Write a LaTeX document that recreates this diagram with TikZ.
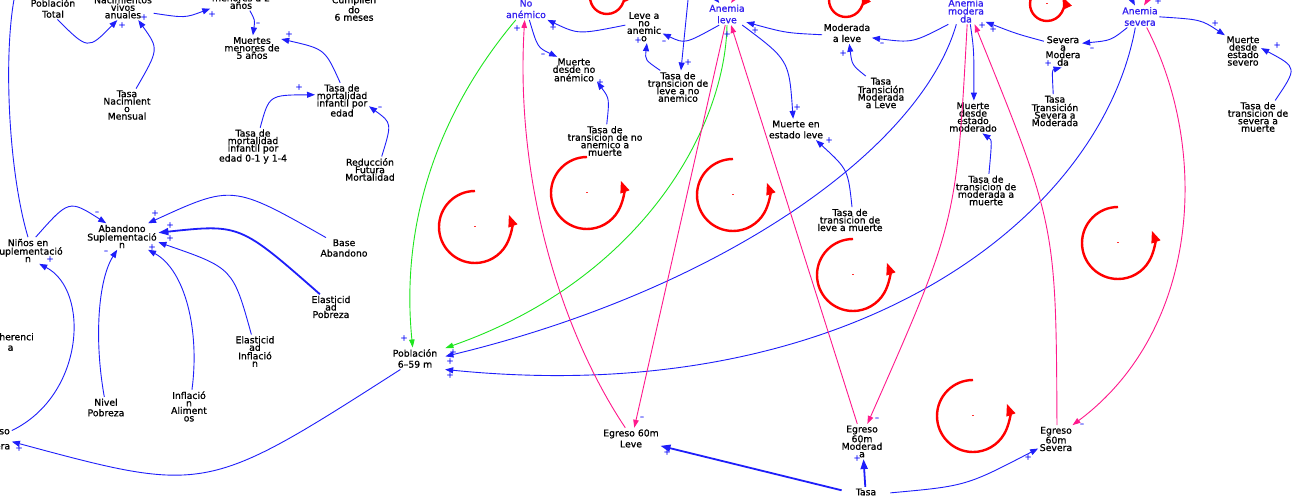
\documentclass[tikz,border=0pt]{standalone}
\usepackage{fontspec}
\setmainfont{DejaVu Sans}[FakeBold=0.8]
\usetikzlibrary{arrows.meta}
\definecolor{vb}{RGB}{30,30,250}
\definecolor{vt}{RGB}{50,30,240}
\definecolor{vp}{RGB}{255,25,140}
\definecolor{vg}{RGB}{30,230,30}
\definecolor{vr}{RGB}{255,0,0}
\newcommand{\vloop}[5]{%
  \coordinate (#1) at (#2,#3);
  \draw[loopc] ([yshift=#4pt]#1) arc[start angle=90,end angle=#5,radius=#4pt];
  \node[lsg] (#1m) at (#1) {-};
}
\begin{document}
\begin{tikzpicture}[x=1pt,y=-1pt,
  lab/.style={align=center,inner sep=1.5pt,text=black,font=\fontsize{9.3}{7.5}\selectfont},
  lab2/.style={lab,font=\fontsize{9.3}{11}\selectfont},
  stock/.style={lab,text=vt,font=\fontsize{9.3}{11.5}\selectfont},
  conn/.style={draw=vb,line width=0.9pt,-{Triangle[length=8pt,width=6pt]}},
  heavy/.style={conn,line width=1.8pt,-{Triangle[length=10pt,width=7pt]}},
  pconn/.style={draw=vp,line width=0.9pt,-{Triangle[length=8pt,width=5.5pt]}},
  gconn/.style={draw=vg,line width=0.9pt,-{Triangle[length=8pt,width=5.5pt]}},
  sgn/.style={text=vb,inner sep=0pt,font=\fontsize{8}{8}\selectfont},
  lsg/.style={text=vr,inner sep=0pt,font=\fontsize{6}{6}\selectfont},
  loopc/.style={draw=vr,line width=2.4pt,-{Triangle[length=12pt,width=9pt]}}]
\useasboundingbox (0,0) rectangle (1292,497);
\fill[white] (0,0) rectangle (1292,497);

% ---------- left part nodes
\node[lab2] (pobT) at (53,8.5) {Población\\Total};
\node[lab] (nac) at (123,7.3) {Nacimientos\\vivos\\anuales};
\node[lab] (muA) at (241,-2) {Muertes\\menores a 2\\años};
\node[lab] (cum) at (354,8.5) {Cumplien\\do\\6 meses};
\node[lab] (m5) at (252,48) {Muertes\\menores de\\5 años};
\node[lab] (tmi) at (342,100.5) {Tasa de\\mortalidad\\infantil por\\edad};
\node[lab] (tmi01) at (253,146.5) {Tasa de\\mortalidad\\infantil por\\edad 0-1 y 1-4};
\node[lab] (red) at (370,169.5) {Reducción\\Futura\\Mortalidad};
\node[lab] (tnac) at (127,105) {Tasa\\Nacimient\\o\\Mensual};
\node[lab] (nin) at (28,250.5) {Niños en\\Suplementació\\n};
\node[lab] (aban) at (122,236.5) {Abandono\\Suplementació\\n};
\node[lab,font=\fontsize{9.3}{10.5}\selectfont] (base) at (344,248) {Base\\Abandono};
\node[lab] (ePob) at (331,307) {Elasticid\\ad\\Pobreza};
\node[lab] (eInf) at (255,351.5) {Elasticid\\ad\\Inflació\\n};
\node[lab] (inf) at (189,406.5) {Inflació\\n\\Aliment\\os};
\node[lab,font=\fontsize{9.3}{10.5}\selectfont] (niv) at (106,407.5) {Nivel\\Pobreza};
\node[lab,font=\fontsize{9.3}{10.5}\selectfont] (adh) at (10.5,342) {Adherenci\\a};
\node[lab] (egr0) at (-6,438.5) {Egreso\\a\\Severa};

% ---------- right part nodes
\node[stock] (noA) at (526,9) {No\\anémico};
\node[stock] (aLeve) at (727,14) {Anemia\\leve};
\node[stock,font=\fontsize{9.3}{8}\selectfont] (aMod) at (966,11) {Anemia\\modera\\da};
\node[stock] (aSev) at (1140,16.5) {Anemia\\severa};
\node[lab] (lnA) at (644,26.75) {Leve a\\no\\anemic\\o};
\node[lab] (mNA) at (574,70) {Muerte\\desde no\\anémico};
\node[lab] (tLN) at (678,87) {Tasa de\\transicion de\\leve a no\\anemico};
\node[lab] (tNM) at (605,141) {Tasa de\\transicion de no\\anemico a\\muerte};
\node[lab2] (mAL) at (847,33) {Moderada\\a leve};
\node[lab2] (mEL) at (796,129.5) {Muerte en\\estado leve};
\node[lab] (tMAL) at (881,93) {Tasa\\Transición\\Moderada\\a Leve};
\node[lab] (mDM) at (973,117) {Muerte\\desde\\estado\\moderado};
\node[lab] (tMM) at (986,190.5) {Tasa de\\transicion de\\moderada a\\muerte};
\node[lab] (sAM) at (1063,51) {Severa\\a\\Modera\\da};
\node[lab] (tSAM) at (1055,111) {Tasa\\Transición\\Severa a\\Moderada};
\node[lab] (mDS) at (1243,51) {Muerte\\desde\\estado\\severo};
\node[lab] (tSM) at (1258,117) {Tasa de\\transicion de\\severa a\\muerte};
\node[lab] (tLM) at (850,220) {Tasa de\\transicion de\\leve a muerte};
\node[lab2,inner xsep=8pt] (pob) at (415,358.5) {Población\\6–59 m};
\node[lab2] (egL) at (631,438.5) {Egreso 60m\\Leve};
\node[lab] (egM) at (862,441.5) {Egreso\\60m\\Moderad\\a};
\node[lab] (egS) at (1056,439) {Egreso\\60m\\Severa};
\node[lab,inner xsep=14pt] (tasa) at (866,492) {Tasa};

% ---------- loops
\vloop{L1}{607}{-3}{17}{385}
\vloop{L2}{846}{0}{17}{385}
\vloop{L3}{1047}{4}{17}{385}
\vloop{L4}{475}{227}{36}{380}
\vloop{L5}{587}{193}{36}{380}
\vloop{L6}{733}{195}{36}{380}
\vloop{L7}{853}{275}{36}{380}
\vloop{L8}{1118}{243}{36}{380}
\vloop{L9}{973}{416}{36}{380}

% ---------- left connectors
\draw[conn] (pobT.-68) .. controls (88,50) .. (nac.-114);
\draw[conn] (tnac.61) .. controls (159,49) .. (nac.-40);
\draw[conn] (nac.-11) .. controls (185,18) .. (muA.-161);
\draw[conn] (muA.-55) .. controls (255,20) .. (m5.86);
\draw[conn] (tmi.96) .. controls (325,49) .. (m5.17);
\draw[conn] (tmi01.69) .. controls (269,95) .. (tmi.168);
\draw[conn] (red.48) .. controls (392,123) .. (tmi.-12);
\coordinate (topL) at (17,-15);
\draw[conn] (nin.90) .. controls (8,170) and (3,50) .. (topL);
\draw[conn] (nin.60) .. controls (69,199.5) .. (aban.140);
\draw[conn] (base.150) .. controls (232.5,184.5) .. (aban.27);
\draw[heavy] (ePob.131) .. controls (240,224) .. (aban.6);
\draw[conn] (eInf.102) .. controls (233,268) .. (aban.-9);
\draw[conn] (inf.80) .. controls (200,330) and (185,270) .. (aban.-27);
\draw[conn] (niv.99) .. controls (94,340) and (98,280) .. (aban.-110);
\draw[conn] (egr0.24) .. controls (85,395) and (90,290) .. (nin.-50);
\draw[conn] (pob.-143) .. controls (206,494) .. (egr0.-10);

% ---------- right connectors: to population
\draw[gconn] (noA.-133) .. controls (440,110) and (400,220) .. (pob.102);
\draw[gconn] (aLeve.-90) .. controls (725,130) and (640,280) .. (pob.19);
\draw[conn] (aMod.-126) .. controls (920,150) and (720,290) .. (pob.4);
\draw[conn] (aSev.-113) .. controls (1100,220) and (850,410) .. (pob.-20);

% pink
\draw[pconn] (egL.118) .. controls (560,330) and (515,180) .. (noA.-97);
\draw[pconn] (aLeve.-99) -- (egL.73);
\draw[pconn] (egM.105) -- (aLeve.-70);
\draw[pconn] (aMod.-85) .. controls (956.5,222) .. (egM.73);
\draw[pconn] (egS.86) .. controls (1056,225) .. (aMod.-57);
\draw[pconn] (aSev.-59) .. controls (1210,150) and (1200,330) .. (egS.40);

% blue flows
\draw[conn] (lnA.175) .. controls (578.5,34.5) .. (noA.-27);
\draw[conn] (aLeve.-125) .. controls (685,44) .. (lnA.-20);
\draw[conn] (tLN.137) .. controls (645,60) .. (lnA.-80);
\coordinate (topM) at (689,-10);
\draw[conn] (topM) -- (tLN.80);
\draw[conn] (noA.-73) .. controls (537.5,47.5) .. (mNA.142);
\draw[conn] (tNM.84) .. controls (609.5,98.5) .. (mNA.-27);
\draw[conn] (aLeve.-36) .. controls (789,60) .. (mEL.105);
\draw[conn] (mAL.184) .. controls (786,33) .. (aLeve.-23);
\draw[conn] (aMod.-143) .. controls (912.5,43) .. (mAL.-11);
\draw[conn] (tMAL.132) .. controls (852,65) .. (mAL.-78);
\draw[conn] (aMod.-72) .. controls (974,50) .. (mDM.87);
\draw[conn] (tMM.80) .. controls (992,140) .. (mDM.-60);
\draw[conn] (sAM.153) .. controls (1017,34) .. (aMod.-29);
\draw[conn] (aSev.-139) .. controls (1111,40.5) .. (sAM.22);
\draw[conn] (tSAM.96) .. controls (1052,70) .. (sAM.-95);
\draw[conn] (aSev.-1) .. controls (1201,19.5) .. (mDS.139);
\draw[conn] (tSM.44) .. controls (1297.5,67.5) .. (mDS.9);
\draw[conn] (tLM.81) .. controls (848,169.5) .. (mEL.-28);

% fragments entering from above
\coordinate (topA) at (700,-20);
\coordinate (topB) at (748,-20);
\coordinate (topC) at (1122,-20);
\coordinate (topD) at (1160,-20);
\draw[conn] (topA) -- (aLeve.125);
\draw[pconn] (topB) -- (aLeve.70);
\draw[conn] (topC) -- (aSev.115);
\draw[pconn] (topD) -- (aSev.70);

% bottom rate
\draw[heavy] (tasa.176) -- (egL.-14);
\draw[heavy] (tasa.98) -- (egM.-85);
\draw[conn] (tasa.-2) .. controls (966,486) .. (egS.-152);

% ---------- polarity signs
\foreach \x/\y/\t [count=\i] in {
 122/25/+,144/17/+,212/14/+,258/24/–,289/34/+,299/87/+,380/108/–,
 97/213/–,155/213/+,170/225/+,170/238/+,152/247/+,106/252/–,50/259/+,19/448/+,
 517/28/+,553/27/+,664/42/–,638/40/+,688/62/+,543/55/–,600/82/+,797/107/+,
 755/30/+,727/34/+,882/44/–,843/53/+,982/25/+,993/29/+,1092/49/–,1048/63/+,
 1215/23/+,1277/45/+,829/140/+,404/338/+,453/352/+,450/361/+,450/375/+,
 642/418/–,877/419/–,1082/425/–,667/452/+,857/458/+,1028/457/+,1158/1/+}
  \node[sgn] (sg\i) at (\x,\y) {\t};
\end{tikzpicture}
\end{document}
